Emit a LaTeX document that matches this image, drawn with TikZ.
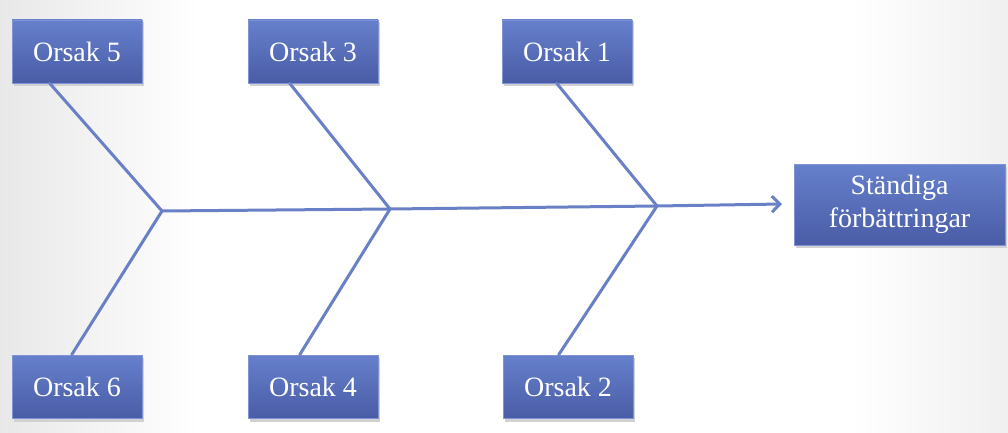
\documentclass[tikz,border=0pt]{standalone}
\usepackage{fontspec}
\setmainfont{Liberation Serif}
\usetikzlibrary{arrows.meta,calc}
\definecolor{boxtop}{HTML}{6680CC}
\definecolor{boxbot}{HTML}{4A5CA6}
\definecolor{boxedge}{HTML}{8193D6}
\definecolor{bone}{HTML}{6A80C6}
\tikzset{
  causebox/.style={minimum width=130pt, minimum height=63pt, inner sep=0pt,
    top color=boxtop, bottom color=boxbot, draw=boxedge, line width=0.6pt,
    text=white, font=\fontsize{28}{33}\selectfont, align=center},
  resultbox/.style={causebox, minimum width=211pt, minimum height=81pt},
  boneline/.style={draw=bone, line width=3pt, line cap=round},
}
\begin{document}
\begin{tikzpicture}[x=1pt,y=-1pt]
\useasboundingbox (0,0) rectangle (1008,433);
\fill[white] (0,0) rectangle (1008,433);
\shade[left color=black!9, right color=white] (0,0) rectangle (200,433);
\shade[left color=white, right color=black!6] (850,0) rectangle (1008,433);
% shadows
\foreach \cx/\cy in {77/51.5,313/51.5,567/51.5,77/386.5,313/386.5,568/386.5}
  \fill[black!18] (\cx-63,\cy-29) rectangle (\cx+67,\cy+35);
\fill[black!18] (796,167) rectangle (1007,248);
% boxes
\node[causebox] (o5) at (77,51.5) {\raisebox{-2pt}{Orsak 5}};
\node[causebox] (o3) at (313,51.5) {\raisebox{-2pt}{Orsak 3}};
\node[causebox] (o1) at (567,51.5) {\raisebox{-2pt}{Orsak 1}};
\node[causebox] (o6) at (77,386.5) {\raisebox{-2pt}{Orsak 6}};
\node[causebox] (o4) at (313,386.5) {\raisebox{-2pt}{Orsak 4}};
\node[causebox] (o2) at (568,386.5) {\raisebox{-2pt}{Orsak 2}};
\node[resultbox] (st) at (899.5,204.5) {Ständiga\\förbättringar};
% joints
\coordinate (j1) at (162,211);
\coordinate (j2) at (390,209);
\coordinate (j3) at (657,206);
\coordinate (tip) at (782,204);
% attachment points
\coordinate (a5) at ([xshift=38pt]o5.south west);
\coordinate (a6) at ([xshift=60pt]o6.north west);
\coordinate (a3) at ([xshift=42pt]o3.south west);
\coordinate (a4) at ([xshift=52pt]o4.north west);
\coordinate (a1) at ([xshift=55pt]o1.south west);
\coordinate (a2) at ([xshift=56pt]o2.north west);
% bones
\draw[boneline] (a5) -- (j1);
\draw[boneline] (a6) -- (j1);
\draw[boneline] (a3) -- (j2);
\draw[boneline] (a4) -- (j2);
\draw[boneline] (a1) -- (j3);
\draw[boneline] (a2) -- (j3);
\draw[boneline, -{Straight Barb[length=8pt,width=16pt,line width=3pt]}] (j1) -- (j2) -- (j3) -- (tip);
\end{tikzpicture}
\end{document}
